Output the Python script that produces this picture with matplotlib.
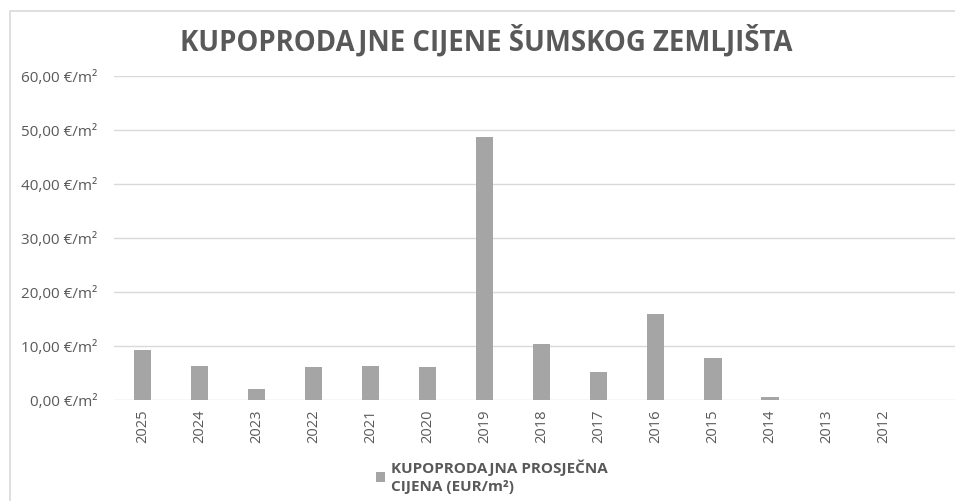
import matplotlib.pyplot as plt
from matplotlib.patches import Rectangle
from matplotlib.ticker import FuncFormatter

plt.rcParams['font.family'] = ['Open Sans', 'DejaVu Sans']

years = ['2025', '2024', '2023', '2022', '2021', '2020', '2019',
         '2018', '2017', '2016', '2015', '2014', '2013', '2012']
prices = [9.3, 6.3, 2.0, 6.2, 6.3, 6.2, 48.7, 10.3, 5.2, 16.0, 7.8, 0.5, 0.0, 0.0]
yticks = [0, 10, 20, 30, 40, 50, 60]

text_grey = '#595959'

fig = plt.figure(figsize=(9.55, 5.01), dpi=100)
ax = fig.add_axes([114 / 955, 101 / 501, 1 - 114 / 955, 324 / 501])

x = list(range(len(years)))
ax.bar(x, prices, width=0.31, color='#A5A5A5', zorder=3,
       label='KUPOPRODAJNA PROSJEČNA\nCIJENA (EUR/m²)')

ax.set_ylim(0, 60)
ax.set_xlim(-0.5, 14.25)
ax.set_yticks(yticks)
ax.yaxis.set_major_formatter(FuncFormatter(lambda v, p: f'{v:.2f}'.replace('.', ',') + ' €/m²'))
ax.set_xticks(x)
ax.set_xticklabels(years, rotation=90)
ax.grid(axis='y', color='#D9D9D9', linewidth=1, zorder=0)
for s in ax.spines.values():
    s.set_visible(False)
ax.tick_params(axis='both', length=0, colors=text_grey)
ax.tick_params(axis='y', pad=12, labelsize=11)
ax.tick_params(axis='x', pad=7, labelsize=10.5)

fig.text(0.509, 0.918, 'KUPOPRODAJNE CIJENE ŠUMSKOG ZEMLJIŠTA', ha='center', va='center',
         fontsize=19.8, fontweight='bold', color=text_grey)

leg = ax.legend(loc='center left', bbox_to_anchor=(362 / 955, 1 - 477 / 501),
                bbox_transform=fig.transFigure, frameon=False,
                handlelength=0.6, handleheight=0.6, handletextpad=0.4,
                prop={'weight': 'bold', 'size': 11})
for t in leg.get_texts():
    t.set_color(text_grey)
    t.set_linespacing(1.35)

# outer chart border (cropped at the right and bottom)
fig.add_artist(Rectangle((10 / 955, -0.1), 1.2, 1 - 11 / 501 + 0.1, transform=fig.transFigure,
                         fill=False, edgecolor='#D9D9D9', linewidth=1.2))

fig.savefig('out.png', dpi=100)
